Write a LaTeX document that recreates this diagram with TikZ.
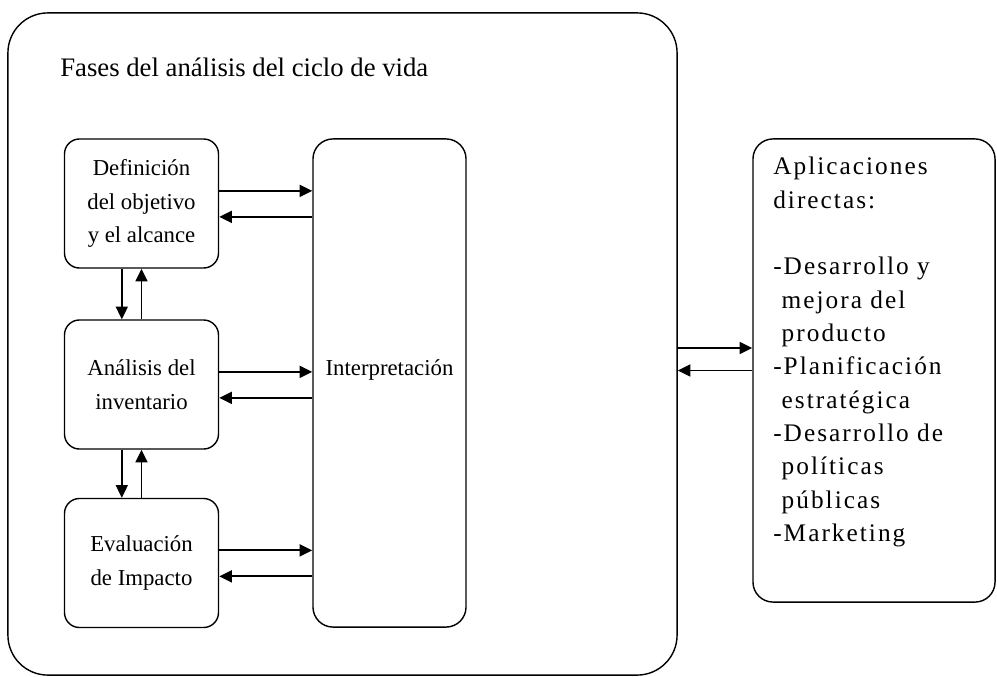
\documentclass[tikz,border=0pt]{standalone}
\usepackage{fontspec}
\setmainfont{Liberation Serif}
\newfontfamily\listafont[LetterSpace=8]{Liberation Serif}
\usetikzlibrary{arrows.meta}

\tikzset{
    fase/.style={draw, line width=1pt, rounded corners=15*0.025cm, align=center,
        minimum width=3.85cm, minimum height=3.225cm, inner sep=0pt,
        font=\fontsize{16.2}{24}\selectfont},
    arr/.style={line width=1.3pt, -{Triangle[length=9pt,width=8.5pt]}}
}

\begin{document}
\begin{tikzpicture}[x=0.025cm, y=-0.025cm]
            \useasboundingbox (0,0) rectangle (997,676);

            % marco exterior
            \node[draw, line width=1pt, rounded corners=1cm, minimum width=16.725cm,
                minimum height=16.55cm] (fases) at (342.5,344) {};
            \node[anchor=base west, inner sep=0pt, font=\fontsize{19}{22}\selectfont]
                (titulo) at (60,77) {Fases del análisis del ciclo de vida};

            % fases
            \node[fase] (def) at (141.5,203.5) {Definición\\del objetivo\\y el alcance};
            \node[fase] (inv) at (141.5,384.5) {Análisis del\\inventario};
            \node[fase] (imp) at (141.5,563) {Evaluación\\de Impacto};
            \node[fase, rounded corners=20*0.025cm, minimum width=3.825cm,
                minimum height=12.2cm,
                label={[yshift=9pt, font=\fontsize{16.2}{24}\selectfont]center:Interpretación}]
                (interp) at (389.5,383) {};

            % aplicaciones
            \node[draw, line width=1pt, rounded corners=20*0.025cm, minimum width=6.05cm,
                minimum height=11.575cm] (apps) at (874,370.5) {};
            \node[anchor=north west, inner sep=0pt, align=left,
                font=\listafont\fontsize{18}{23.7}\selectfont] (lista) at (773,157)
                {Aplicaciones\\directas:\\[23.7pt]
                 -Desarrollo y\\\hphantom{-}mejora del\\\hphantom{-}producto\\
                 -Planificación\\\hphantom{-}estratégica\\
                 -Desarrollo de\\\hphantom{-}políticas\\\hphantom{-}públicas\\
                 -Marketing};

            %flechas
                 \foreach \n in {def,inv,imp}{
                     \draw[arr] ([yshift=9pt]\n.east) -- ([yshift=9pt]interp.west |- \n.east);
                     \draw[arr] ([yshift=-9.5pt]interp.west |- \n.east) -- ([yshift=-9.5pt]\n.east);
                 }
                 \draw[arr] ([xshift=-14pt]def.south) -- ([xshift=-14pt]inv.north);
                 \draw[arr] (inv.north) -- (def.south);
                 \draw[arr] ([xshift=-14pt]inv.south) -- ([xshift=-14pt]imp.north);
                 \draw[arr] (imp.north) -- (inv.south);
                 \draw[arr] ([yshift=16pt]fases.east |- apps.west) -- ([yshift=16pt]apps.west);
                 \draw[arr] (apps.west) -- (fases.east |- apps.west);
\end{tikzpicture}
\end{document}
